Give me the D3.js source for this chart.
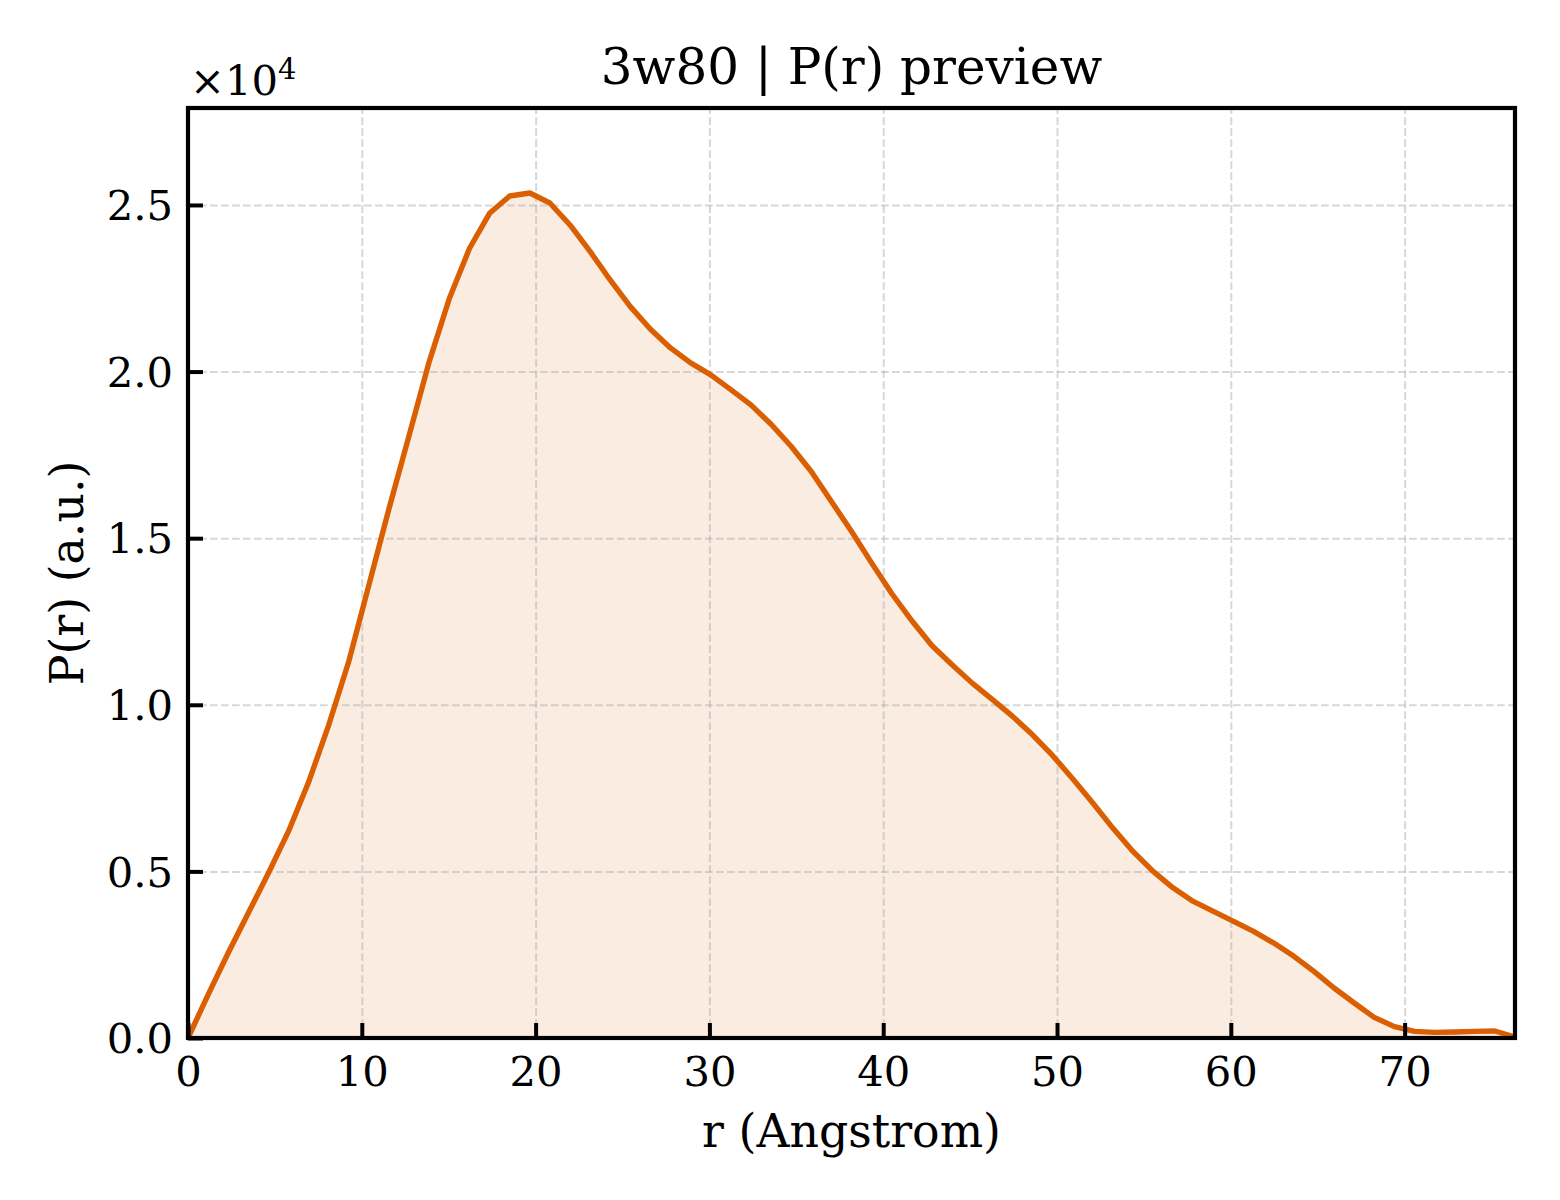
<!DOCTYPE html>
<html>
<head>
<meta charset="utf-8">
<script src="https://cdn.jsdelivr.net/npm/d3@7"></script>
<style>
  body { margin: 0; background: #fff; }
  text { font-family: "DejaVu Serif", serif; fill: #000; }
</style>
</head>
<body>
<svg width="1560" height="1200"></svg>
<script>
// r grid (Angstrom) and P(r) values
var rVals = [0, 1.16, 2.31, 3.47, 4.63, 5.78, 6.94, 8.10, 9.25, 10.41, 11.57, 12.73, 13.88, 15.04,
    16.20, 17.35, 18.51, 19.67, 20.82, 21.98, 23.14, 24.29, 25.45, 26.61, 27.76, 28.92, 30.08,
    31.23, 32.39, 33.55, 34.70, 35.86, 37.02, 38.18, 39.33, 40.49, 41.65, 42.80, 43.96, 45.12,
    46.27, 47.43, 48.59, 49.74, 50.90, 52.06, 53.21, 54.37, 55.53, 56.69, 57.84, 59.00, 60.16,
    61.31, 62.47, 63.63, 64.78, 65.94, 67.10, 68.25, 69.41, 70.57, 71.72, 72.88, 74.04, 75.19, 76.35];
var prVals = [0, 1300, 2550, 3750, 4950, 6200, 7680, 9400, 11300, 13600, 15900, 18100, 20300, 22200,
    23700, 24750, 25270, 25360, 25060, 24400, 23600, 22750, 21950, 21270, 20710, 20260, 19900,
    19460, 19000, 18420, 17760, 17000, 16100, 15200, 14260, 13340, 12520, 11780, 11200, 10650,
    10160, 9660, 9100, 8480, 7780, 7050, 6300, 5600, 5000, 4500, 4100, 3800, 3500, 3200,
    2850, 2450, 2000, 1500, 1050, 620, 340, 200, 170, 180, 200, 210, 30];
var xTicks = [0, 10, 20, 30, 40, 50, 60, 70];
var yTicks = [0, 5000, 10000, 15000, 20000, 25000];

var titleText = '3w80 | P(r) preview';
var xLabel = 'r (Angstrom)';
var yLabel = 'P(r) (a.u.)';

var margin = { top: 108, right: 45, bottom: 162, left: 188 };
var svg = d3.select('svg'),
    W = +svg.attr('width'),
    H = +svg.attr('height'),
    w = W - margin.left - margin.right,
    h = H - margin.top - margin.bottom;

var lineColor = '#d95f02';
var tickFont = 41.7;

var x = d3.scaleLinear().domain([0, 76.35]).range([0, w]);
var y = d3.scaleLinear().domain([0, 27910]).range([h, 0]);

var pts = rVals.map(function (r, i) { return [r, prVals[i]]; });

var g = svg.append('g')
    .attr('transform', 'translate(' + margin.left + ',' + margin.top + ')');

// fill under curve
var area = d3.area()
    .x(function (d) { return x(d[0]); })
    .y0(y(0))
    .y1(function (d) { return y(d[1]); });
g.append('path')
    .datum(pts)
    .attr('d', area)
    .attr('fill', lineColor)
    .attr('fill-opacity', 0.12);

// grid
var gridStyle = function (sel) {
    sel.select('.domain').remove();
    sel.selectAll('line')
        .attr('stroke', '#b0b0b0')
        .attr('stroke-opacity', 0.5)
        .attr('stroke-width', 2)
        .attr('stroke-dasharray', '7.7,3.3');
};
g.append('g')
    .attr('transform', 'translate(0,' + h + ')')
    .call(d3.axisBottom(x).tickValues(xTicks).tickSize(-h).tickFormat(''))
    .call(gridStyle);
g.append('g')
    .call(d3.axisLeft(y).tickValues(yTicks).tickSize(-w).tickFormat(''))
    .call(gridStyle);

// curve
var line = d3.line()
    .x(function (d) { return x(d[0]); })
    .y(function (d) { return y(d[1]); });
g.append('path')
    .datum(pts)
    .attr('d', line)
    .attr('fill', 'none')
    .attr('stroke', lineColor)
    .attr('stroke-width', 5.4)
    .attr('stroke-linejoin', 'round');

// axes, ticks pointing inward
var xAxis = g.append('g')
    .attr('transform', 'translate(0,' + h + ')')
    .call(d3.axisBottom(x).tickValues(xTicks).tickSizeInner(-15).tickSizeOuter(0).tickPadding(14)
        .tickFormat(d3.format('d')));
var yAxis = g.append('g')
    .call(d3.axisLeft(y).tickValues(yTicks).tickSizeInner(-15).tickSizeOuter(0).tickPadding(15)
        .tickFormat(function (d) { return (d / 1e4).toFixed(1); }));

[xAxis, yAxis].forEach(function (a) {
    a.select('.domain').remove();
    a.selectAll('line').attr('stroke', '#000').attr('stroke-width', 4);
    a.selectAll('text')
        .style('font-family', '"DejaVu Serif", serif')
        .style('font-size', tickFont + 'px')
        .attr('fill', '#000');
});
xAxis.selectAll('text').attr('dy', '0.82em');
yAxis.selectAll('text').attr('dy', '0.35em');

// frame
g.append('rect')
    .attr('width', w)
    .attr('height', h)
    .attr('fill', 'none')
    .attr('stroke', '#000')
    .attr('stroke-width', 4.2);

// offset text
var off = svg.append('text')
    .attr('x', margin.left + 2)
    .attr('y', 95)
    .style('font-size', tickFont + 'px');
off.append('tspan').text('\u00d710');
off.append('tspan').attr('dy', -16).style('font-size', '29px').text('4');

// title and labels
svg.append('text')
    .attr('x', margin.left + w / 2)
    .attr('y', 84)
    .attr('text-anchor', 'middle')
    .style('font-size', '50px')
    .text(titleText);

svg.append('text')
    .attr('x', margin.left + w / 2)
    .attr('y', 1147)
    .attr('text-anchor', 'middle')
    .style('font-size', '45.8px')
    .text(xLabel);

svg.append('text')
    .attr('transform', 'translate(83,' + (margin.top + h / 2) + ') rotate(-90)')
    .attr('text-anchor', 'middle')
    .style('font-size', '45.8px')
    .text(yLabel);
</script>
</body>
</html>
